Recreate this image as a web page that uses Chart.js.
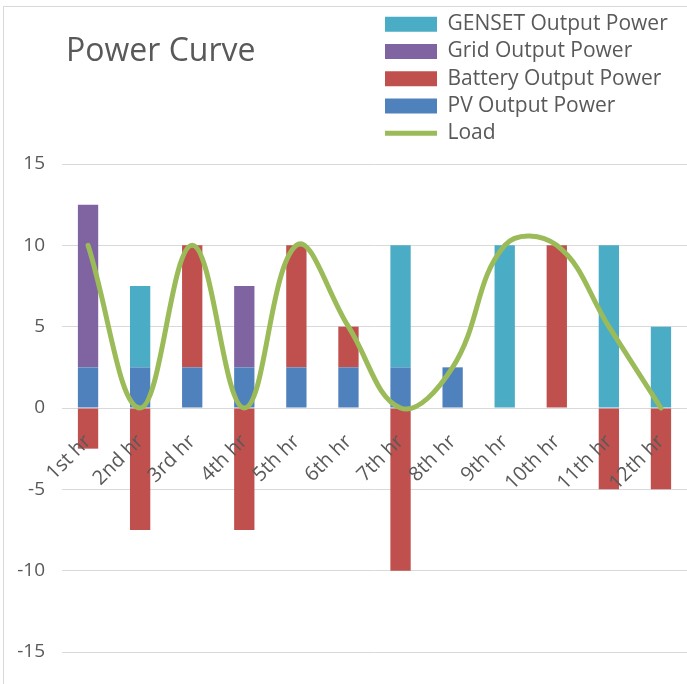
<!DOCTYPE html>
<html><head><meta charset="utf-8">
<script src="https://cdn.jsdelivr.net/npm/chart.js@4.4.0/dist/chart.umd.min.js"></script>
<style>
html,body{margin:0;padding:0;background:#fff;}
#wrap{position:relative;width:687px;height:684px;overflow:hidden;}
#frame{position:absolute;left:3px;top:6px;width:700px;height:700px;border-left:1px solid #d9d9d9;border-top:1px solid #d9d9d9;}
canvas{position:absolute;left:0;top:0;}
</style></head><body>
<div id="wrap"><div id="frame"></div><canvas id="c" width="687" height="684"></canvas></div>
<script>
const TITLE = 'Power Curve';
const hours = ['1st hr','2nd hr','3rd hr','4th hr','5th hr','6th hr','7th hr','8th hr','9th hr','10th hr','11th hr','12th hr'];
const pvPower      = [2.5, 2.5, 2.5, 2.5, 2.5, 2.5, 2.5, 2.5, 0, 0, 0, 0];
const batteryPower = [-2.5, -7.5, 7.5, -7.5, 7.5, 2.5, -10, 0, 0, 10, -5, -5];
const gridPower    = [10, 0, 0, 5, 0, 0, 0, 0, 0, 0, 0, 0];
const gensetPower  = [0, 5, 0, 0, 0, 0, 7.5, 0, 10, 0, 10, 5];
const loadPower    = [10, 0, 10, 0, 10, 5, 0, 2.5, 10, 10, 5, 0];
const yTicks = [-15, -10, -5, 0, 5, 10, 15];
const legendRank = [3, 2, 1, 0, 4];

const TXT = '#595959';
const FONT = "'Open Sans', sans-serif";

const layoutPlugin = {
  id: 'layoutPlugin',
  afterLayout(chart) {
    const lg = chart.legend;
    if (lg) {
      const w = lg.width;
      lg.left = 378.75; lg.right = 378.75 + w;
      lg.top = 7.5;
    }
  },
  afterDraw(chart) {
    const ctx = chart.ctx;
    ctx.save();
    ctx.fillStyle = TXT;
    ctx.font = "32px " + FONT;
    ctx.textBaseline = 'middle';
    ctx.textAlign = 'left';
    ctx.fillText(TITLE, 66, 52);
    ctx.restore();
  }
};

new Chart(document.getElementById('c'), {
  data: {
    labels: hours,
    datasets: [
      {type: 'bar', label: 'PV Output Power', data: pvPower, backgroundColor: '#4f81bd', order: 1},
      {type: 'bar', label: 'Battery Output Power', data: batteryPower, backgroundColor: '#c0504d', order: 1},
      {type: 'bar', label: 'Grid Output Power', data: gridPower, backgroundColor: '#8064a2', order: 1},
      {type: 'bar', label: 'GENSET Output Power', data: gensetPower, backgroundColor: '#4bacc6', order: 1},
      {type: 'line', label: 'Load', data: loadPower, borderColor: '#9bbb59', backgroundColor: '#9bbb59',
       borderWidth: 5, pointRadius: 0, tension: 0.4, borderCapStyle: 'round', order: 0}
    ]
  },
  options: {
    responsive: false,
    animation: false,
    layout: {padding: {top: 164, bottom: 32, left: 0, right: 0}},
    datasets: {bar: {barPercentage: 0.39, categoryPercentage: 1, stack: 's'}},
    scales: {
      x: {
        stacked: true,
        position: {y: 0},
        afterFit: s => { s.paddingLeft = 0; s.paddingRight = 0; },
        grid: {display: false},
        border: {display: false},
        ticks: {z: 1, color: TXT, font: {family: FONT, size: 20}, minRotation: 45, maxRotation: 45, autoSkip: false, padding: 14}
      },
      y: {
        stacked: true,
        min: -15, max: 15,
        afterBuildTicks: s => { s.ticks = yTicks.map(v => ({value: v})); },
        afterFit: s => { s.width = 62; },
        grid: {color: '#d9d9d9', lineWidth: 1, drawTicks: false},
        border: {display: false},
        ticks: {color: TXT, font: {family: FONT, size: 19}, padding: 17}
      }
    },
    plugins: {
      tooltip: {enabled: false},
      title: {display: false},
      legend: {
        position: 'chartArea',
        align: 'start',
        labels: {
          color: TXT,
          font: {family: FONT, size: 21},
          usePointStyle: true,
          pointStyleWidth: 52,
          boxHeight: 15,
          padding: 6.25,
          sort: (a, b) => legendRank[a.datasetIndex] - legendRank[b.datasetIndex],
          generateLabels(chart) {
            const items = Chart.defaults.plugins.legend.labels.generateLabels(chart);
            items.forEach(it => {
              const ds = chart.data.datasets[it.datasetIndex];
              if (ds.type === 'line') { it.pointStyle = 'line'; it.lineWidth = 5; it.strokeStyle = ds.borderColor; }
              else { it.pointStyle = 'rect'; it.lineWidth = 0; }
            });
            return items;
          }
        }
      }
    }
  },
  plugins: [layoutPlugin]
});
</script>
</body></html>
